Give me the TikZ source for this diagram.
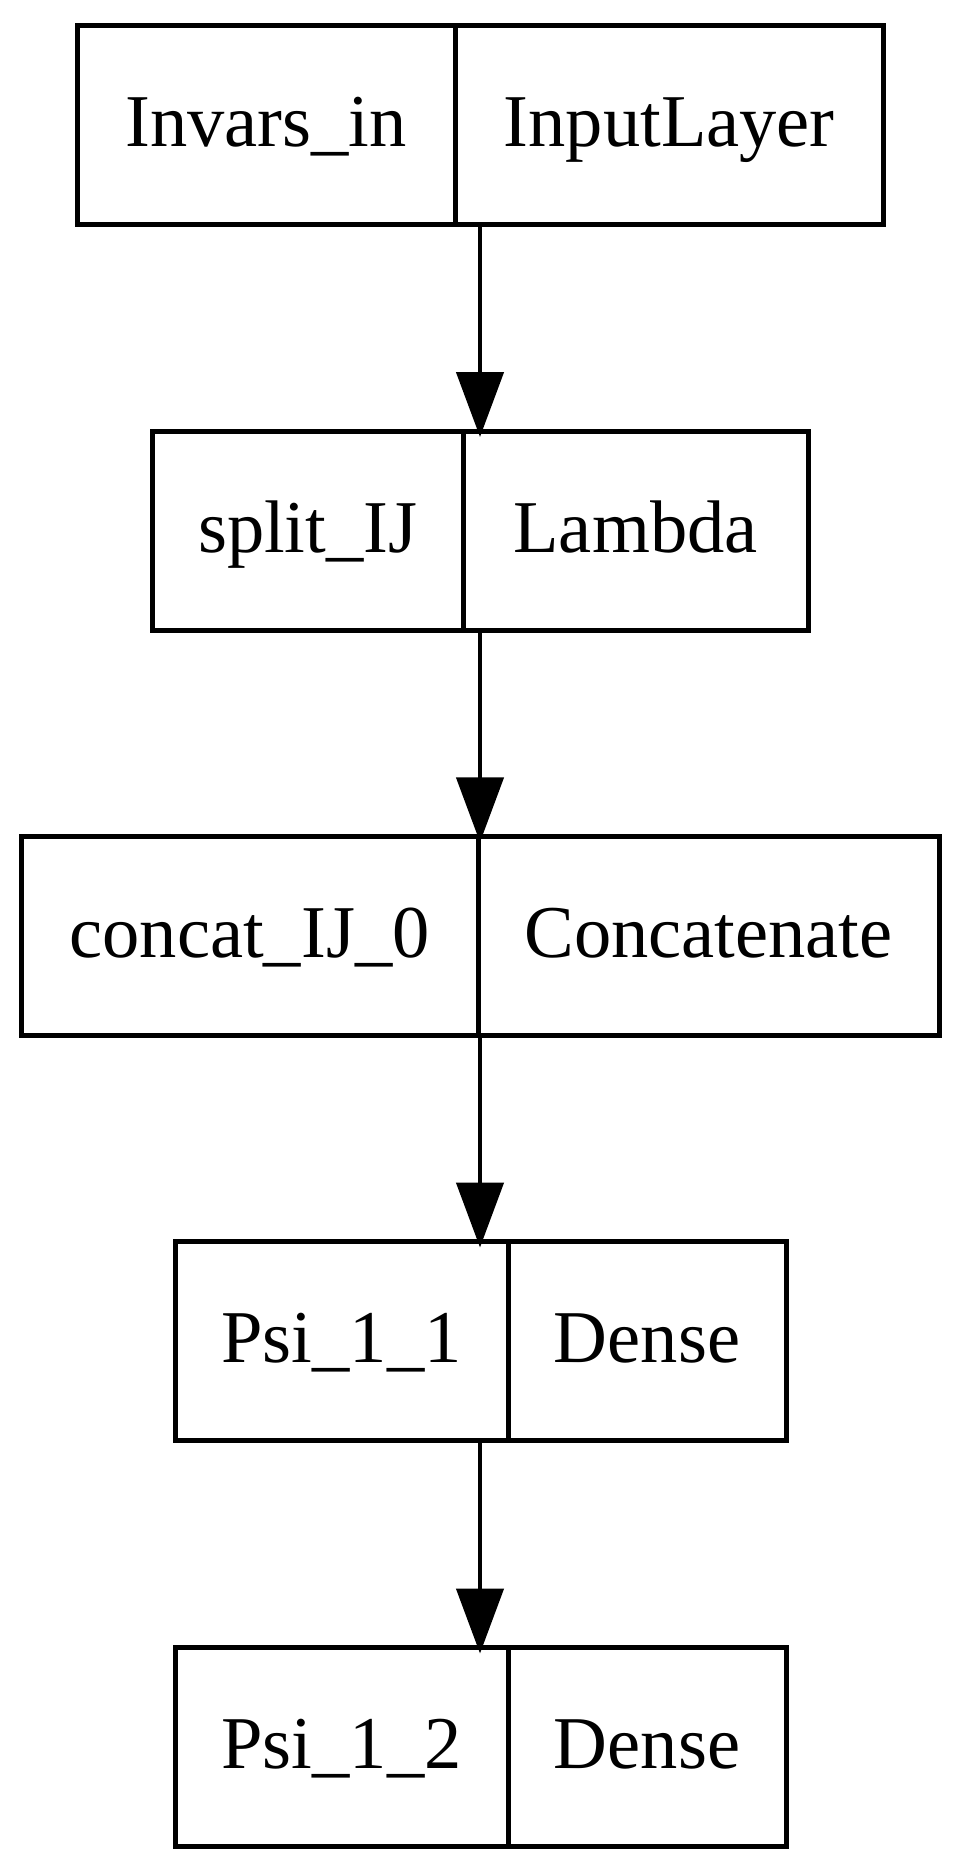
\documentclass[tikz,border=0pt]{standalone}
\usepackage{fontspec}
\setmainfont{Liberation Serif}
\usetikzlibrary{arrows.meta,positioning}

\begin{document}
\begin{tikzpicture}[x=1pt,y=-1pt,
    cell/.style={draw,line width=5pt,inner sep=0pt,outer sep=0pt,
      minimum height=199pt,text height=60pt,text depth=17pt,
      font=\fontsize{74.5}{80}\selectfont},
    flow/.style={line width=4.6pt,shorten >=-6pt,
      -{Triangle[width=47pt,length=65pt]}}]
  \useasboundingbox (0,0) rectangle (961,1872);
  \coordinate (spine) at (480,0);

  % layers, top to bottom
  \node[cell,minimum width=378.5pt,anchor=west] (invarsName) at ( 77  , 124.5) {Invars\_in};
  \node[cell,minimum width=427.5pt,right=0pt of invarsName] (invarsType) {InputLayer};

  \node[cell,minimum width=310.5pt,anchor=west] (splitName)  at (152.5, 530.5) {split\_IJ};
  \node[cell,minimum width=345pt,right=0pt of splitName] (splitType) {Lambda};

  \node[cell,minimum width=457pt,anchor=west] (concatName) at ( 21  , 935.8) {concat\_IJ\_0};
  \node[cell,minimum width=461pt,right=0pt of concatName] (concatType) {Concatenate};

  \node[cell,minimum width=333pt,anchor=west] (psiAName)   at (175  ,1341  ) {Psi\_1\_1};
  \node[cell,minimum width=278pt,right=0pt of psiAName] (psiAType) {Dense};

  \node[cell,minimum width=333pt,anchor=west] (psiBName)   at (175  ,1747  ) {Psi\_1\_2};
  \node[cell,minimum width=278pt,right=0pt of psiBName] (psiBType) {Dense};

  % connections
  \draw[flow] (invarsType.south -| spine) -- (splitType.north -| spine);
  \draw[flow] (splitType.south -| spine)  -- (concatType.north -| spine);
  \draw[flow] (concatType.south -| spine) -- (psiAName.north -| spine);
  \draw[flow] (psiAName.south -| spine)   -- (psiBName.north -| spine);
\end{tikzpicture}
\end{document}
